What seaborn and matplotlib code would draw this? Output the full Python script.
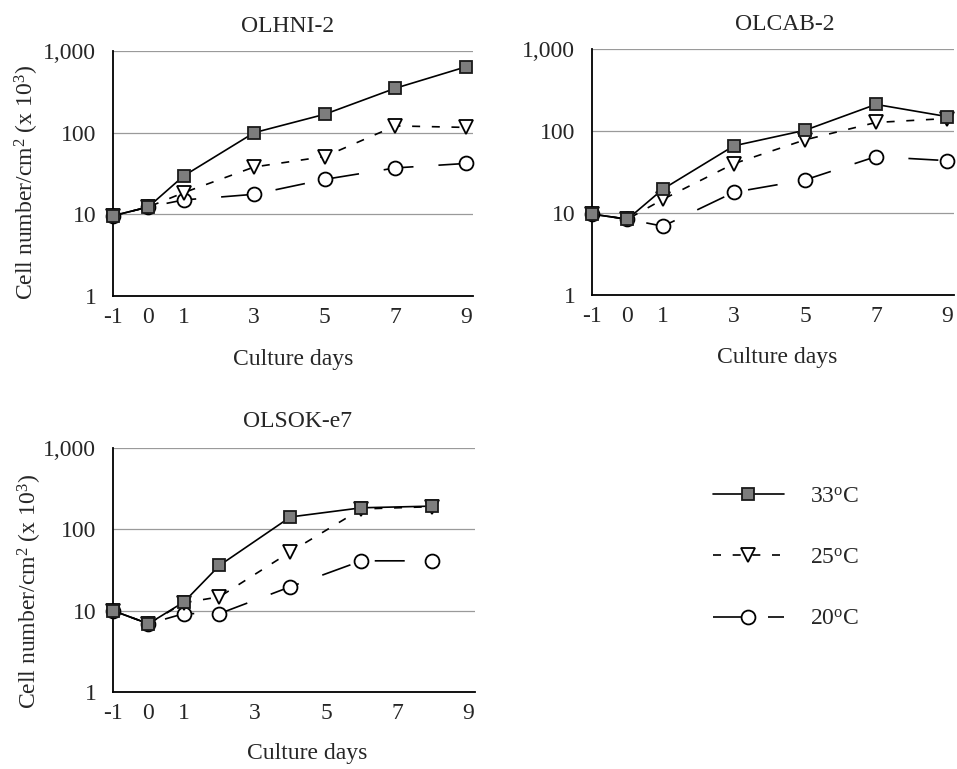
import matplotlib
matplotlib.use("Agg")
import matplotlib.pyplot as plt
import seaborn as sns

# Culture days and cell counts (x 10^3 cells/cm^2) per cell line and temperature
days_hni = [-1, 0, 1, 3, 5, 7, 9]
hni_33 = [9.6, 12.3, 29.5, 100, 168, 350, 640]
hni_25 = [9.6, 12.3, 18.4, 38, 51, 121, 116]
hni_20 = [9.6, 12.3, 15.0, 17.6, 26.8, 37, 42]

days_cab = [-1, 0, 1, 3, 5, 7, 9]
cab_33 = [9.7, 8.4, 19.6, 66, 102, 211, 150]
cab_25 = [9.7, 8.4, 14.7, 40, 78, 127, 142]
cab_20 = [9.7, 8.4, 6.9, 17.9, 25.3, 48.7, 43.5]

days_sok = [-1, 0, 1, 2, 4, 6, 8]
sok_33 = [10, 6.9, 12.8, 36, 142, 184, 193]
sok_25 = [10, 6.9, 12.5, 14.8, 53, 178, 190]
sok_20 = [10, 6.9, 9.2, 9.2, 19.7, 41, 41]

panel_titles = ["OLHNI-2", "OLCAB-2", "OLSOK-e7"]
temp_labels = ["33$^\\mathrm{o}$C", "25$^\\mathrm{o}$C", "20$^\\mathrm{o}$C"]
x_ticks = [-1, 0, 1, 3, 5, 7, 9]
y_ticks = [1, 10, 100, 1000]
y_tick_labels = ["1", "10", "100", "1,000"]

sns.set_style("white")
plt.rcParams["font.family"] = ["Liberation Serif", "DejaVu Serif"]
plt.rcParams["mathtext.fontset"] = "custom"
plt.rcParams["mathtext.rm"] = "Liberation Serif"
plt.rcParams["mathtext.it"] = "Liberation Serif:italic"
plt.rcParams["axes.unicode_minus"] = False

FS = 17
W, H = 957, 769
fig = plt.figure(figsize=(W / 100, H / 100), dpi=100)

def px_axes(left, top, right, bottom):
    return fig.add_axes([left / W, 1 - bottom / H, (right - left) / W, (bottom - top) / H])

ax1 = px_axes(113, 51, 473, 296)
ax2 = px_axes(592, 49, 954, 295)
ax3 = px_axes(113, 448, 475, 692)

styles = {
    "33": dict(marker="s", ms=8.5, mfc="#7d7d7d", mec="#1a1a1a", linestyle="-"),
    "25": dict(marker="v", ms=10, mfc="white", mec="black", linestyle=(0, (4.8, 7))),
    "20": dict(marker="o", ms=10, mfc="white", mec="black", linestyle=(0, (18, 15))),
}

def draw_panel(ax, days, s33, s25, s20, title, title_xy, xlabel_xy, ylabel_xy=None):
    ax.set_yscale("log")
    handles = {}
    for key, vals in (("20", s20), ("25", s25), ("33", s33)):
        sns.lineplot(x=days, y=vals, ax=ax, color="black", lw=1.2, mew=1.3,
                     errorbar=None, clip_on=False, zorder=3, **styles[key])
        handles[key] = ax.get_lines()[-1]
    ax.set_xlim(-1, 9.2)
    ax.set_ylim(1, 1000)
    ax.set_xticks(x_ticks)
    ax.set_xticklabels([str(t) for t in x_ticks])
    ax.set_yticks(y_ticks)
    ax.set_yticklabels(y_tick_labels)
    ax.minorticks_off()
    ax.tick_params(axis="y", length=0, pad=12, labelsize=FS)
    ax.tick_params(axis="x", direction="in", length=4, width=1, pad=8, labelsize=FS)
    ax.grid(axis="y", color="#9a9a9a", lw=0.9)
    ax.grid(axis="x", visible=False)
    for side in ("top", "right"):
        ax.spines[side].set_visible(False)
    for side in ("left", "bottom"):
        ax.spines[side].set_color("black")
        ax.spines[side].set_linewidth(1.3)
    ax.text(title_xy[0], title_xy[1], title, transform=ax.transAxes,
            ha="center", va="center", fontsize=FS)
    ax.set_xlabel("Culture days", fontsize=FS)
    ax.xaxis.set_label_coords(*xlabel_xy)
    ax.xaxis.label.set_va("center")
    if ylabel_xy is not None:
        ax.set_ylabel("Cell number/cm$^\\mathrm{2}$ (x 10$^\\mathrm{3}$)", fontsize=FS)
        ax.yaxis.set_label_coords(*ylabel_xy)
        ax.yaxis.label.set_va("center")
    else:
        ax.set_ylabel("")
    return handles

h = draw_panel(ax1, days_hni, hni_33, hni_25, hni_20, panel_titles[0],
               (0.486, 1.098), (0.5, -0.261), (-0.239, 0.465))
draw_panel(ax2, days_cab, cab_33, cab_25, cab_20, panel_titles[1],
           (0.533, 1.098), (0.511, -0.256))
draw_panel(ax3, days_sok, sok_33, sok_25, sok_20, panel_titles[2],
           (0.511, 1.11), (0.536, -0.25), (-0.229, 0.41))

fig.legend([h["33"], h["25"], h["20"]], temp_labels,
           loc="upper left", bbox_to_anchor=(713 / W, 1 - 486 / H),
           bbox_transform=fig.transFigure, frameon=False, fontsize=FS,
           borderpad=0, borderaxespad=0, handlelength=3.0, handletextpad=1.1,
           labelspacing=1.68)

fig.savefig("out.png", dpi=100, facecolor="white")
